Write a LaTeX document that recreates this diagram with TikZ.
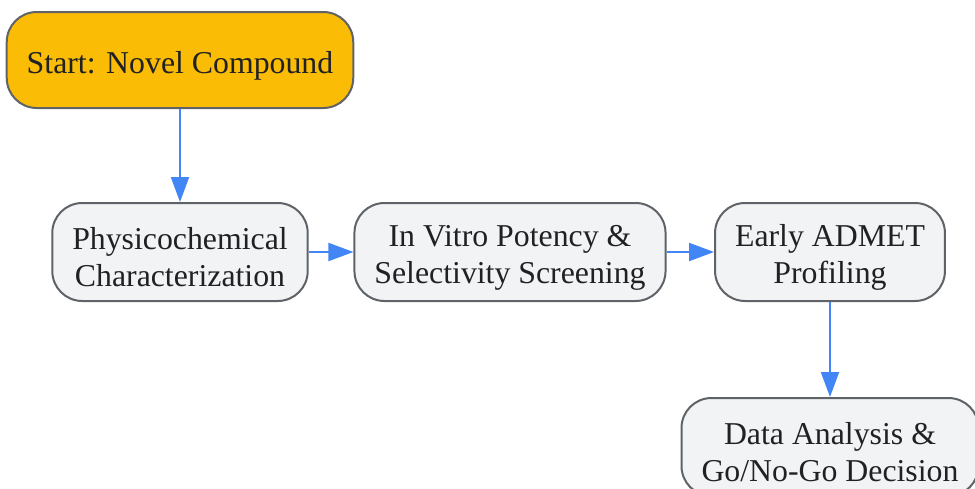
\documentclass[tikz,border=0pt]{standalone}
\usepackage{fontspec}
\setmainfont{Liberation Serif}
\usepackage{xcolor}
\usepackage{tikz}
\usetikzlibrary{arrows.meta}
\definecolor{startfill}{HTML}{FBBC05}
\definecolor{stepfill}{HTML}{F1F3F4}
\definecolor{stepline}{HTML}{5F6368}
\definecolor{flowblue}{HTML}{4285F4}
\definecolor{textgray}{HTML}{202124}
\newcommand{\lowstrut}{\rule{0pt}{32pt}}
\tikzset{
  stepbox/.style={rectangle, rounded corners=30pt, draw=stepline, line width=2pt, fill=stepfill,
    text=textgray, align=center, inner xsep=20pt, minimum height=98pt,
    font=\fontsize{31.8}{37}\selectfont},
  flow/.style={draw=flowblue, fill=flowblue, line width=2pt, -{Triangle[length=25pt,width=18pt]}}
}

\begin{document}
\begin{tikzpicture}[x=1pt, y=-1pt]
            \useasboundingbox (0, 0) rectangle (975, 488);
            \node (start) at (180, 60) [stepbox, fill=startfill, minimum height=96pt] {\rule{0pt}{34.5pt}Start: Novel Compound};
            \node (phys) at (180, 252) [stepbox] {\lowstrut Physicochemical\\Characterization};
            \node (vitro) at (510, 252) [stepbox] {\lowstrut In Vitro Potency \&\\Selectivity Screening};
            \node (admet) at (830, 252) [stepbox] {\lowstrut Early ADMET\\Profiling};
            \node (decision) at (830, 447) [stepbox] {\lowstrut Data Analysis \&\\Go/No-Go Decision};
            \draw (start) edge [flow] (phys);
            \draw (phys) edge [flow] (vitro);
            \draw (vitro) edge [flow] (admet);
            \draw (admet) edge [flow] (decision);
        \end{tikzpicture}
\end{document}
